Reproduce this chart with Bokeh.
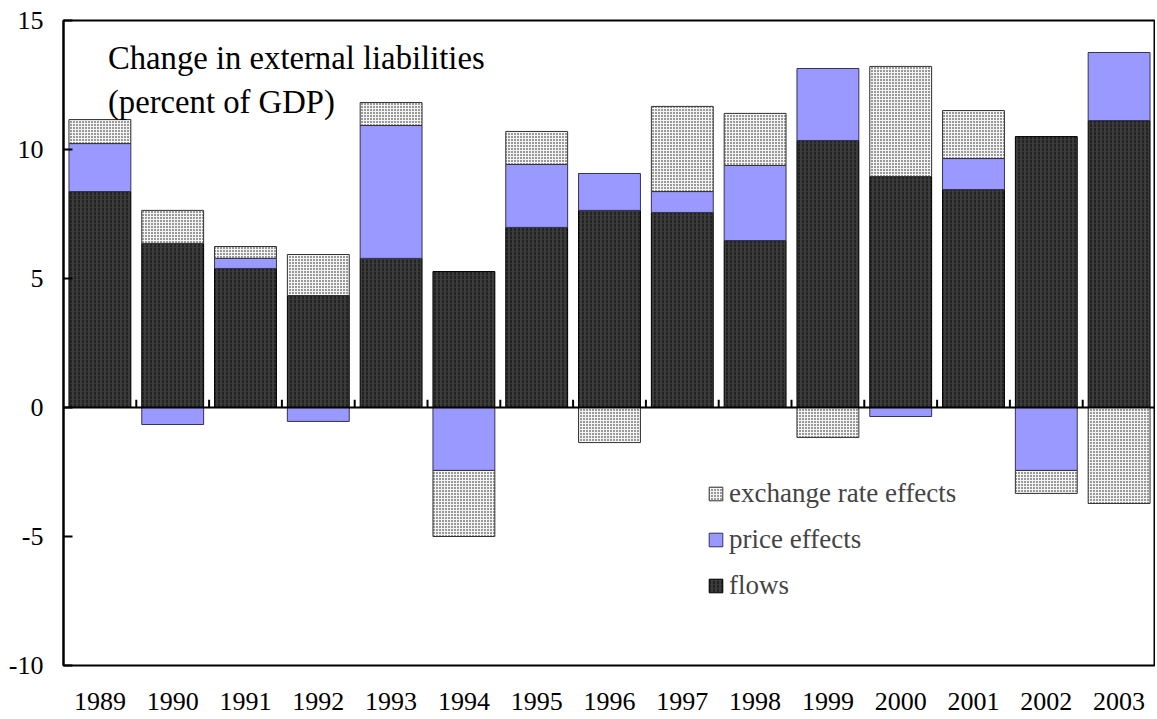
import numpy as np
from bokeh.plotting import figure
from bokeh.models import ColumnDataSource, FixedTicker, Label, Legend, LegendItem, Range1d
from bokeh.embed import file_html
from bokeh.resources import INLINE

years = ["1989", "1990", "1991", "1992", "1993", "1994", "1995", "1996",
         "1997", "1998", "1999", "2000", "2001", "2002", "2003"]
flows = [8.37, 6.36, 5.39, 4.34, 5.78, 5.27, 6.98, 7.64, 7.56, 6.47, 10.35, 8.95, 8.45, 10.50, 11.12]
price_effects = [1.86, -0.66, 0.39, -0.54, 5.15, -2.44, 2.44, 1.43, 0.81, 2.91, 2.79, -0.35, 1.20, -2.44, 2.64]
exchange_effects = [0.93, 1.28, 0.46, 1.59, 0.89, -2.56, 1.28, -1.36, 3.30, 2.02, -1.16, 4.27, 1.86, -0.89, -3.72]
y_ticks = [-10, -5, 0, 5, 10, 15]
y_tick_labels = ["-10", "-5", "0", "5", "10", "15"]

FONT = "Liberation Serif"

n = len(years)
xc = np.arange(n) + 0.5
fl = np.array(flows)
pr = np.array(price_effects)
ex = np.array(exchange_effects)

# positive stack: flows, price+, exchange+ ; negative stack: price-, exchange-
pos_pr = np.clip(pr, 0, None)
neg_pr = np.clip(pr, None, 0)
pos_ex = np.clip(ex, 0, None)
neg_ex = np.clip(ex, None, 0)

src = ColumnDataSource(dict(
    x=xc,
    fl_b=np.zeros(n), fl_t=fl,
    pr_b=np.where(pr >= 0, fl, 0.0), pr_t=np.where(pr >= 0, fl + pos_pr, neg_pr),
    ex_b=np.where(ex >= 0, fl + pos_pr, neg_pr),
    ex_t=np.where(ex >= 0, fl + pos_pr + pos_ex, neg_pr + neg_ex),
))

p = figure(width=1155, height=717, output_backend="svg", toolbar_location=None,
           x_range=Range1d(0, n), y_range=Range1d(-10, 15),
           min_border_left=63, min_border_right=0, min_border_top=20, min_border_bottom=52)
p.background_fill_color = "white"
p.border_fill_color = "white"
p.outline_line_color = "black"
p.outline_line_width = 2
p.xgrid.visible = False
p.ygrid.visible = False

W = 0.85
r_fl = p.vbar(x="x", bottom="fl_b", top="fl_t", width=W, source=src,
              fill_color="#3c3c3c", line_color="black", line_width=1,
              hatch_pattern="vertical_dash", hatch_color="#1a1a1a", hatch_scale=4, hatch_weight=1.5)
r_pr = p.vbar(x="x", bottom="pr_b", top="pr_t", width=W, source=src,
              fill_color="#9999FF", line_color="#333355", line_width=1)
r_ex = p.vbar(x="x", bottom="ex_b", top="ex_t", width=W, source=src,
              fill_color="#f4f4f4", line_color="#333333", line_width=1,
              hatch_pattern="dot", hatch_color="#111111", hatch_scale=3, hatch_weight=1.6)

# zero line with small ticks at category boundaries
p.segment(x0=[0], y0=[0], x1=[n], y1=[0], line_color="black", line_width=2)
bx = np.arange(1, n)
p.segment(x0=bx, y0=np.zeros(n - 1), x1=bx, y1=np.full(n - 1, 0.3), line_color="black", line_width=2)

# axes
xa = p.xaxis[0]
xa.ticker = FixedTicker(ticks=list(xc))
xa.major_label_overrides = {float(v): y for v, y in zip(xc, years)}
xa.axis_line_color = None
xa.major_tick_line_color = None
xa.minor_tick_line_color = None
xa.major_label_text_font = FONT
xa.major_label_text_font_size = "26px"
xa.major_label_text_color = "black"
xa.major_label_standoff = 21

ya = p.yaxis[0]
ya.ticker = FixedTicker(ticks=y_ticks)
ya.major_label_overrides = {t: s for t, s in zip(y_ticks, y_tick_labels)}
ya.axis_line_color = "black"
ya.axis_line_width = 2
ya.major_tick_line_color = "black"
ya.major_tick_line_width = 2
ya.major_tick_in = 9
ya.major_tick_out = 0
ya.minor_tick_line_color = None
ya.major_label_text_font = FONT
ya.major_label_text_font_size = "26px"
ya.major_label_text_color = "black"
ya.major_label_standoff = 20

for txt, yy in [("Change in external liabilities", 13.53), ("(percent of GDP)", 11.86)]:
    p.add_layout(Label(x=0.61, y=yy, text=txt, text_font=FONT, text_font_size="32.7px",
                       text_baseline="middle", text_color="black"))

legend = Legend(items=[
    LegendItem(label="exchange rate effects", renderers=[r_ex]),
    LegendItem(label="price effects", renderers=[r_pr]),
    LegendItem(label="flows", renderers=[r_fl]),
], location=(644, 64))
legend.background_fill_alpha = 0
legend.border_line_color = None
legend.label_text_font = FONT
legend.label_text_font_size = "27px"
legend.glyph_width = 17
legend.glyph_height = 17
legend.label_height = 17
legend.label_standoff = 5
legend.spacing = 15
legend.padding = 0
legend.margin = 0
p.add_layout(legend)

open("out.html", "w").write(file_html(p, INLINE))
